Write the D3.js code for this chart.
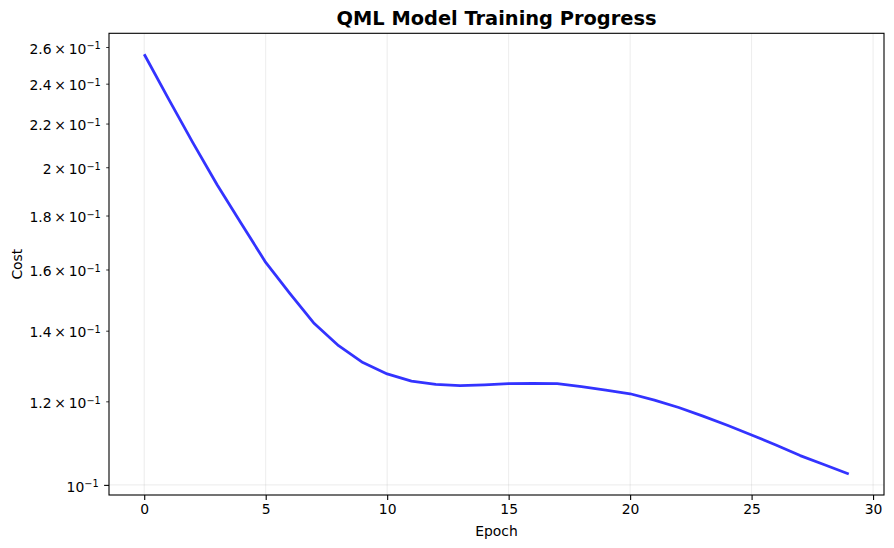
<!DOCTYPE html>
<html>
<head>
<meta charset="utf-8">
<script src="https://cdn.jsdelivr.net/npm/d3@7"></script>
<style>
  body { margin: 0; background: #fff; }
  svg { display: block; font-family: "DejaVu Sans", sans-serif; }
</style>
</head>
<body>
<svg id="chart" width="894" height="548"></svg>
<script>
// training cost per epoch
const epochs = d3.range(0, 30);
const costs = [
  0.2559, 0.2322, 0.2110, 0.1925, 0.1768, 0.1625, 0.1518, 0.1422, 0.1355, 0.1306,
  0.1274, 0.1254, 0.1245, 0.1242, 0.1244, 0.1247, 0.1248, 0.1247, 0.1239, 0.1230,
  0.1220, 0.1203, 0.1184, 0.1162, 0.1139, 0.1115, 0.1091, 0.1066, 0.1045, 0.1024
];
const xTicks = [0, 5, 10, 15, 20, 25, 30];
const yMajorTicks = [0.1];
const yMinorTicks = [0.12, 0.14, 0.16, 0.18, 0.2, 0.22, 0.24, 0.26];

const W = 894, H = 548;
const m = { left: 109, right: 10, top: 33.3, bottom: 53 };
const svg = d3.select('#chart');

// matplotlib-like 5% margins (log space for y)
const xPad = (d3.max(epochs) - d3.min(epochs)) * 0.05;
const x = d3.scaleLinear()
  .domain([d3.min(epochs) - xPad, d3.max(epochs) + xPad])
  .range([m.left, W - m.right]);

const lmin = Math.log10(d3.min(costs)), lmax = Math.log10(d3.max(costs));
const lPad = (lmax - lmin) * 0.05;
const y = d3.scaleLog()
  .domain([Math.pow(10, lmin - lPad), Math.pow(10, lmax + lPad)])
  .range([H - m.bottom, m.top]);

// grid (major ticks only)
const grid = svg.append('g').attr('stroke', '#b0b0b0').attr('stroke-opacity', 0.3).attr('stroke-width', 0.8);
grid.selectAll('line.gx').data(xTicks).enter().append('line')
  .attr('x1', d => x(d)).attr('x2', d => x(d))
  .attr('y1', m.top).attr('y2', H - m.bottom);
grid.selectAll('line.gy').data(yMajorTicks).enter().append('line')
  .attr('y1', d => y(d)).attr('y2', d => y(d))
  .attr('x1', m.left).attr('x2', W - m.right);

// cost line
const line = d3.line().x((d, i) => x(epochs[i])).y(d => y(d));
svg.append('path')
  .datum(costs)
  .attr('d', line)
  .attr('fill', 'none')
  .attr('stroke', 'blue')
  .attr('stroke-opacity', 0.8)
  .attr('stroke-width', 2.78)
  .attr('stroke-linejoin', 'round');

// spines
svg.append('rect')
  .attr('x', m.left).attr('y', m.top)
  .attr('width', W - m.right - m.left).attr('height', H - m.bottom - m.top)
  .attr('fill', 'none').attr('stroke', '#000').attr('stroke-width', 1.1);

// x axis
const xAxis = svg.append('g')
  .attr('transform', `translate(0,${H - m.bottom})`)
  .call(d3.axisBottom(x).tickValues(xTicks).tickSize(4.9).tickPadding(4.2).tickFormat(d3.format('d')));
xAxis.select('.domain').remove();
xAxis.selectAll('line').attr('stroke-width', 1.1);
xAxis.selectAll('text').attr('font-size', 13.9).attr('fill', '#000').attr('font-family', 'DejaVu Sans');

// y tick label as mathtext "a × 10^-1"
function sciLabel(sel) {
  sel.each(function(d) {
    const t = d3.select(this).text('');
    const mant = +(d * 10).toFixed(1);
    if (mant !== 1) t.append('tspan').text(mant + '\u2009\u00d7\u2009');
    t.append('tspan').text('10');
    t.append('tspan').attr('dy', '-0.45em').attr('font-size', '0.7em').text('\u22121');
  });
}

const yMajor = svg.append('g')
  .attr('transform', `translate(${m.left},0)`)
  .call(d3.axisLeft(y).tickValues(yMajorTicks).tickSize(4.9).tickPadding(5.5));
const yMinor = svg.append('g')
  .attr('transform', `translate(${m.left},0)`)
  .call(d3.axisLeft(y).tickValues(yMinorTicks).tickSize(2.8).tickPadding(5.5));
[yMajor, yMinor].forEach(g => {
  g.select('.domain').remove();
  g.selectAll('line').attr('stroke-width', g === yMajor ? 1.1 : 0.8);
  g.selectAll('text').attr('font-size', 13.9).attr('fill', '#000')
    .attr('font-family', 'DejaVu Sans').attr('dy', '0.45em').call(sciLabel);
});

// labels and title
svg.append('text')
  .attr('x', (m.left + W - m.right) / 2).attr('y', 536)
  .attr('text-anchor', 'middle').attr('font-size', 13.9).text('Epoch');
svg.append('text')
  .attr('transform', `translate(22,${(m.top + H - m.bottom) / 2}) rotate(-90)`)
  .attr('text-anchor', 'middle').attr('font-size', 13.9).text('Cost');
svg.append('text')
  .attr('x', (m.left + W - m.right) / 2).attr('y', 25)
  .attr('text-anchor', 'middle').attr('font-size', 19.4).attr('font-weight', 'bold')
  .text('QML Model Training Progress');
</script>
</body>
</html>
